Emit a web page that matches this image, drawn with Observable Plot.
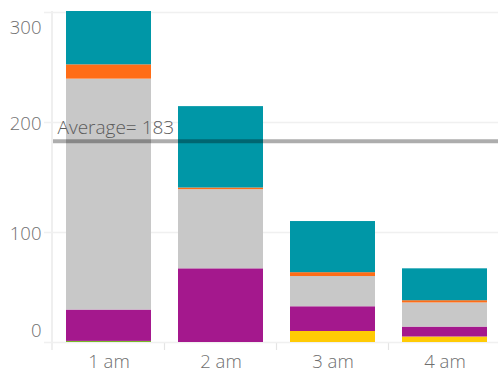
<!DOCTYPE html>
<html>
<head>
<meta charset="utf-8">
<script src="https://cdn.jsdelivr.net/npm/d3@7"></script>
<script src="https://cdn.jsdelivr.net/npm/@observablehq/plot@0.6"></script>
<style>
  html, body { margin: 0; padding: 0; background: #fff; }
  #chart { width: 498px; height: 373px; overflow: hidden; }
  #chart svg text { font-weight: 300; }
</style>
</head>
<body>
<div id="chart"></div>
<script>
// ---- data ----
const hours = ["1 am", "2 am", "3 am", "4 am"];
const seriesNames = ["Series A", "Series B", "Series C", "Series D", "Series E", "Series F"];
const seriesColors = ["#7ab929", "#ffcb05", "#a4188d", "#c8c8c8", "#ff6d17", "#0097a7"];
const seriesA = [1, 0, 0, 0];
const seriesB = [0, 0, 10, 5];
const seriesC = [28.5, 67, 22.5, 9];
const seriesD = [210, 72, 27.5, 22];
const seriesE = [13, 1.5, 3.5, 2];
const seriesF = [88, 74, 46.5, 29];
const yTicks = [0, 100, 200, 300];

const allSeries = [seriesA, seriesB, seriesC, seriesD, seriesE, seriesF];
const rows = [];
allSeries.forEach((vals, si) => {
  vals.forEach((v, hi) => rows.push({hour: hours[hi], series: seriesNames[si], value: v}));
});
const totals = hours.map((h, i) => d3.sum(allSeries, s => s[i]));
const avg = d3.mean(totals);

const font = "'Open Sans', 'Noto Sans', sans-serif";
const txt = "#6f6f6f";

const plot = Plot.plot({
  width: 498,
  height: 373,
  marginLeft: 52,
  marginRight: -4,
  marginTop: 11,
  marginBottom: 31,
  style: {fontFamily: font, fontSize: "18.5px", color: txt, background: "#fff", overflow: "hidden"},
  x: {domain: hours, paddingInner: 0.24, paddingOuter: 0.12, label: null},
  y: {domain: [0, 301], label: null},
  color: {domain: seriesNames, range: seriesColors},
  marks: [
    Plot.ruleY(yTicks, {stroke: "#f0f0f0", strokeWidth: 1.5, insetLeft: -8}),
    Plot.barY(rows, {x: "hour", y: "value", fill: "series", clip: true}),
    Plot.ruleY([avg], {stroke: "black", strokeOpacity: 0.32, strokeWidth: 4, insetLeft: 1}),
    Plot.axisX({tickSize: 0, tickPadding: 12, fontSize: 18.5, fill: txt}),
    Plot.axisY(yTicks.filter(d => d > 0 && d < 300), {tickSize: 0, tickPadding: 11, dy: 2, fontSize: 18.5, fill: txt}),
    Plot.text(yTicks.filter(d => d === 0), {y: d => d, frameAnchor: "left", textAnchor: "end", dx: -11, dy: -11, text: d => String(d), fontSize: 18.5, fill: txt}),
    Plot.text(yTicks.filter(d => d === 300), {y: d => d, frameAnchor: "left", textAnchor: "end", dx: -11, dy: 15, text: d => String(d), fontSize: 18.5, fill: txt}),
    Plot.text([avg], {y: d => d, frameAnchor: "left", textAnchor: "start", dx: 5, dy: -13, text: d => `Average= ${Math.round(d)}`, fontSize: 19, fill: "#5c5c5c", className: "avg-label"})
  ]
});
document.getElementById("chart").appendChild(plot);

// post-process: axis lines, dividers, label background
const svg = d3.select(plot);
const xs = plot.scale("x");
const ys = plot.scale("y");
const y0 = ys.apply(0);
const left = 52;
const deco = svg.insert("g", ":first-child").attr("stroke", "#e4e4e4").attr("stroke-width", 1.2);
deco.append("line").attr("x1", left).attr("x2", left).attr("y1", ys.apply(301)).attr("y2", y0 + 8);
hours.slice(1).forEach(h => {
  const xb = xs.apply(h) - (xs.step - xs.bandwidth) / 2;
  deco.append("line").attr("x1", xb).attr("x2", xb).attr("y1", y0).attr("y2", y0 + 8);
});
const lab = plot.querySelector(".avg-label text");
if (lab) {
  const bb = lab.getBBox();
  d3.select(lab.parentNode).insert("rect", ":first-child")
    .attr("x", bb.x - 4).attr("y", bb.y + 1)
    .attr("width", bb.width + 8).attr("height", bb.height - 2)
    .attr("fill", "white").attr("fill-opacity", 0.5);
}
</script>
</body>
</html>
